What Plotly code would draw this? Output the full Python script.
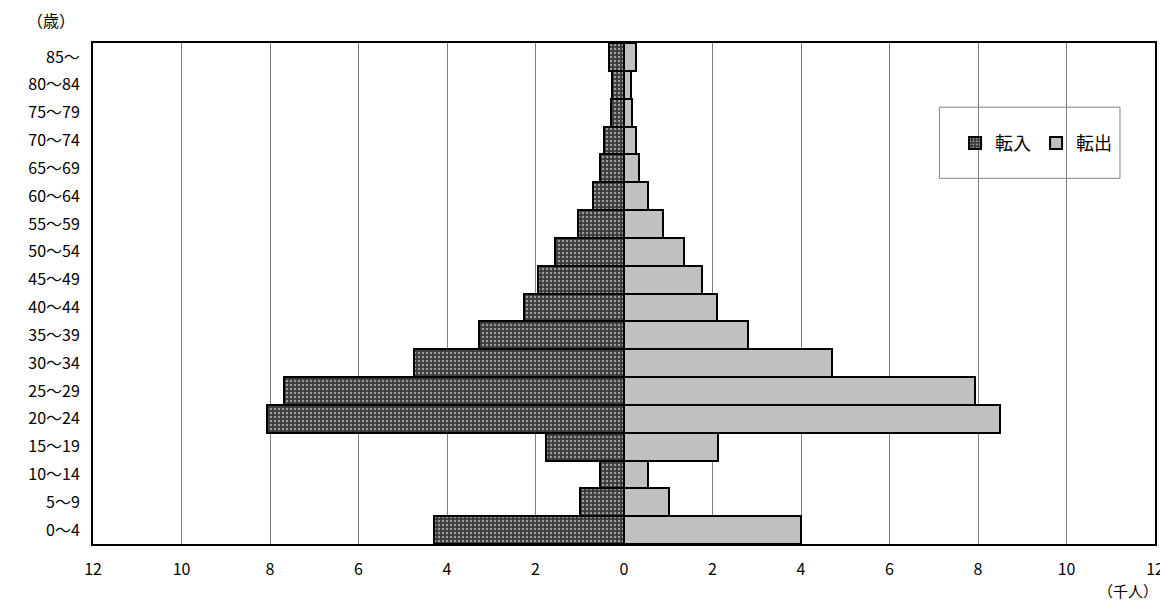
import plotly.graph_objects as go

ages = ["0～4", "5～9", "10～14", "15～19", "20～24", "25～29", "30～34", "35～39",
        "40～44", "45～49", "50～54", "55～59", "60～64", "65～69", "70～74",
        "75～79", "80～84", "85～"]
tennyu = [4.29, 0.99, 0.54, 1.76, 8.07, 7.68, 4.75, 3.28,
          2.26, 1.94, 1.56, 1.04, 0.70, 0.54, 0.45, 0.29, 0.27, 0.34]
tenshutsu = [4.00, 1.02, 0.54, 2.12, 8.50, 7.93, 4.70, 2.80,
             2.10, 1.76, 1.36, 0.88, 0.54, 0.34, 0.27, 0.18, 0.16, 0.27]
tick_vals = list(range(-12, 13, 2))
tick_text = [str(abs(v)) for v in tick_vals]

font = "Noto Sans CJK JP"

fig = go.Figure()
fig.add_trace(go.Bar(
    y=ages, x=[-v for v in tennyu], orientation="h", name="転入",
    marker=dict(color="#3a3a3a", line=dict(color="black", width=2),
                pattern=dict(shape=".", fgcolor="#ffffff", bgcolor="#3a3a3a",
                             size=4, solidity=0.3, fillmode="overlay")),
))
fig.add_trace(go.Bar(
    y=ages, x=tenshutsu, orientation="h", name="転出",
    marker=dict(color="#c0c0c0", line=dict(color="black", width=2)),
))

# page has an 8px body margin; keep the figure small enough to avoid scrollbars
fig.update_layout(
    width=1160, height=592,
    margin=dict(l=85, r=13, t=35, b=56, autoexpand=False),
    barmode="relative", bargap=0,
    plot_bgcolor="white", paper_bgcolor="white",
    font=dict(family=font, size=16, color="black"),
    showlegend=True,
    legend=dict(orientation="h", x=0.888, y=0.8, xanchor="center", yanchor="middle",
                bgcolor="rgba(0,0,0,0)", borderwidth=0, font=dict(size=18),
                itemwidth=30, traceorder="normal"),
    xaxis=dict(range=[-12, 12], tickvals=tick_vals, ticktext=tick_text,
               showgrid=True, gridcolor="#808080", gridwidth=1, zeroline=False,
               showline=True, linecolor="black", linewidth=2, mirror=True,
               ticks="", ticklabelstandoff=10, ticklabeloverflow="allow",
               automargin=False),
    yaxis=dict(showline=True, linecolor="black", linewidth=2, mirror=True,
               showgrid=False, ticks="", ticklabelstandoff=8, automargin=False),
    shapes=[dict(type="rect", xref="paper", yref="paper",
                 x0=0.797, x1=0.967, y0=0.73, y1=0.872,
                 line=dict(color="#808080", width=1), fillcolor="white", layer="below")],
    annotations=[
        dict(text="（歳）", xref="paper", yref="paper", x=-0.015, y=1.045,
             xanchor="right", yanchor="middle", showarrow=False, font=dict(size=16)),
        dict(text="（千人）", xref="paper", yref="paper", x=1.005, y=-0.092,
             xanchor="right", yanchor="middle", showarrow=False, font=dict(size=15)),
    ],
)

fig.write_html("out.html")
